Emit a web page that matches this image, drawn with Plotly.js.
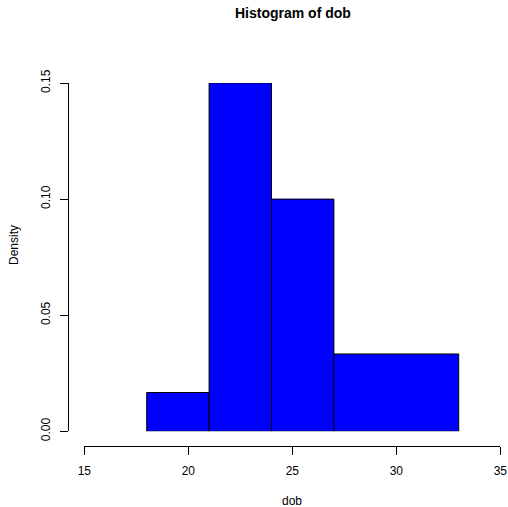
<!DOCTYPE html>
<html>
<head>
<meta charset="utf-8">
<script src="https://cdn.plot.ly/plotly-3.0.1.min.js"></script>
<style>html,body{margin:0;padding:0;background:#fff;}#chart{width:508px;height:507px;}</style>
</head>
<body>
<div id="chart"></div>
<script>
// Histogram data
const breaks = [18, 21, 24, 27, 33];
const density = [0.0167, 0.15, 0.1, 0.0333];
const xTicks = [15, 20, 25, 30, 35];
const yTicks = [0, 0.05, 0.10, 0.15];

const W = 508, H = 507;
const mids = [], widths = [];
for (let i = 0; i < density.length; i++) {
  mids.push((breaks[i] + breaks[i + 1]) / 2);
  widths.push(breaks[i + 1] - breaks[i]);
}

const font = {family: 'Liberation Sans, Arial, Helvetica, sans-serif', color: '#000', size: 12};

const trace = {
  type: 'bar',
  x: mids,
  y: density,
  width: widths,
  marker: {color: '#0000FF', line: {color: '#000', width: 1}},
  hoverinfo: 'skip'
};

const layout = {
  width: W, height: H,
  margin: {l: 0, r: 0, t: 0, b: 0},
  paper_bgcolor: '#fff', plot_bgcolor: '#fff',
  showlegend: false,
  font: font,
  xaxis: {
    domain: [84.3 / W, 500.3 / W],
    range: [15, 35],
    anchor: 'free',
    position: (H - 446.3) / H,
    showline: true, linecolor: '#000', linewidth: 1,
    showgrid: false, zeroline: false,
    tickmode: 'array', tickvals: xTicks, ticktext: xTicks.map(String),
    ticks: 'outside', ticklen: 8, tickwidth: 1, tickcolor: '#000',
    ticklabelstandoff: 5,
    tickfont: font
  },
  yaxis: {
    domain: [(H - 431.3) / H, (H - 83) / H],
    range: [0, 0.15],
    anchor: 'free',
    position: 68.3 / W,
    showline: true, linecolor: '#000', linewidth: 1,
    showgrid: false, zeroline: false,
    tickmode: 'array', tickvals: yTicks, ticktext: yTicks.map(v => v.toFixed(2)),
    tickangle: -90,
    ticks: 'outside', ticklen: 8, tickwidth: 1, tickcolor: '#000',
    ticklabelstandoff: 6,
    tickfont: font
  },
  annotations: [
    {text: '<b>Histogram of dob</b>', xref: 'paper', yref: 'paper', x: 292.5 / W, y: (H - 13) / H,
     xanchor: 'center', yanchor: 'middle', showarrow: false, font: {family: font.family, size: 14, color: '#000'}},
    {text: 'dob', xref: 'paper', yref: 'paper', x: 292 / W, y: (H - 500.5) / H,
     xanchor: 'center', yanchor: 'middle', showarrow: false, borderpad: 0, font: font},
    {text: 'Density', xref: 'paper', yref: 'paper', x: 14 / W, y: (H - 245) / H,
     xanchor: 'center', yanchor: 'middle', showarrow: false, textangle: -90, font: font}
  ]
};

Plotly.newPlot('chart', [trace], layout, {displayModeBar: false, staticPlot: true});
</script>
</body>
</html>
